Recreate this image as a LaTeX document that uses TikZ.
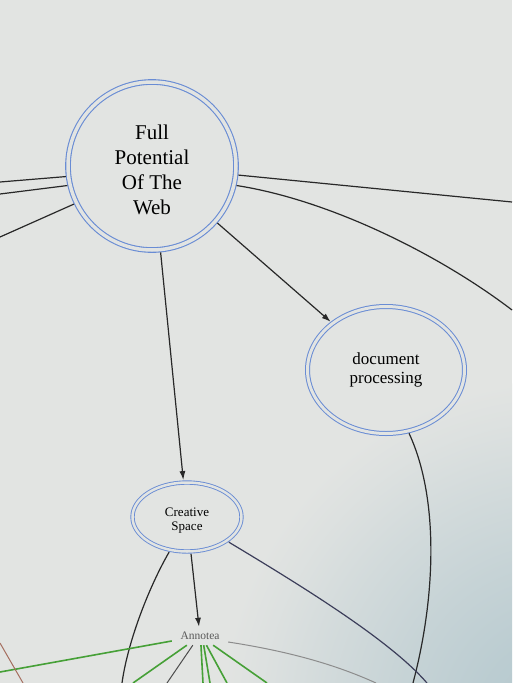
\documentclass[tikz,border=0pt]{standalone}
\usepackage{fontspec}
\setmainfont{Liberation Serif}
\usetikzlibrary{arrows.meta,shapes.geometric}

\definecolor{ringblue}{RGB}{105,140,212}
\definecolor{paper}{RGB}{226,228,226}
\definecolor{papertint}{RGB}{180,200,206}
\definecolor{inkgrey}{RGB}{40,40,40}
\definecolor{slateline}{RGB}{60,62,90}
\definecolor{annogreen}{RGB}{70,160,55}
\definecolor{rustline}{RGB}{165,110,95}

\pgfdeclareradialshading{paperglow}{\pgfpoint{0bp}{0bp}}{%
  color(0bp)=(papertint); color(6bp)=(papertint!85!paper);
  color(12bp)=(papertint!60!paper); color(18bp)=(papertint!32!paper);
  color(22bp)=(papertint!12!paper); color(25bp)=(paper); color(50bp)=(paper)}

\begin{document}
\begin{tikzpicture}
%Web of ideas, top part
	[
	 %Styles
	 x=1pt, y=-1pt,
	 >={Latex[length=9pt,width=6pt]},
	 topic_node/.style={circle, draw=ringblue, double=paper, double distance=3.5pt, line width=1.1pt, outer sep=2.8pt, inner sep=0pt, minimum size=168pt},
	 sub_node/.style={ellipse, draw=ringblue, double=paper, double distance=3pt, line width=1pt, outer sep=2.5pt, inner sep=0pt, align=center},
	 label_inner/.style={align=center, inner sep=0pt},
	 label_simple/.style={rectangle, inner sep=0pt, text=black!65, minimum width=56pt, minimum height=18pt},
	 link_line/.style={draw=inkgrey, line width=1.2pt},
	 anno_line/.style={draw=annogreen, line width=1.6pt}
	]

	%Paper
	\useasboundingbox (0,0) rectangle (512,683);
	\fill[paper] (0,0) rectangle (512,683);
	\begin{scope}
	    \clip (0,0) rectangle (512,683);
	    \shade[shading=paperglow] (560,720) circle (340);
	\end{scope}

	%Node placement
	\node (web) [topic_node, label={[label_inner, yshift=-4pt, font=\fontsize{21}{25}\selectfont]center:Full\\Potential\\Of The\\Web}] at (152,166) {};
	\node (docproc) [sub_node, font=\fontsize{17}{19}\selectfont, minimum width=157pt, minimum height=127pt] at (386,370) {document\\processing};
	\node (creative) [sub_node, line width=0.9pt, double distance=2.5pt, minimum width=109pt, minimum height=69pt, label={[label_inner, yshift=-4pt, font=\fontsize{13}{14}\selectfont]center:Creative\\Space}] at (187,517) {};
	\node (annotea) [label_simple, font=\fontsize{11.5}{12}\selectfont] at (200,636) {Annotea};

	%Loose ends
	\coordinate (left_a) at (0,182);
	\coordinate (left_b) at (0,194);
	\coordinate (left_c) at (0,237);
	\coordinate (right_a) at (512,202);
	\coordinate (right_b) at (512,310);
	\coordinate (proc_end) at (413,683);
	\coordinate (space_end_l) at (122,683);
	\coordinate (space_end_r) at (427,683);
	\coordinate (anno_end_w) at (0,672);
	\coordinate (anno_end_e) at (376,683);
	\coordinate (anno_end_1) at (133,683);
	\coordinate (anno_end_2) at (167,683);
	\coordinate (anno_end_3) at (203,683);
	\coordinate (anno_end_4) at (210,683);
	\coordinate (anno_end_5) at (227,683);
	\coordinate (anno_end_6) at (267,683);
	\coordinate (far_top) at (0,643);
	\coordinate (far_bot) at (23,683);

	%Edges
	\path
	    (web) edge [->, link_line] (docproc)
	    (web) edge [->, link_line] (creative)
	    (creative) edge [->, link_line] (annotea)
	    (web.187) edge [link_line] (left_a)
	    (web.193) edge [link_line] (left_b)
	    (web.206) edge [link_line] (left_c)
	    (web.354) edge [link_line] (right_a);
	\draw[link_line] (web.347) .. controls (330,200) and (440,255) .. (right_b);
	\draw[link_line] (docproc.290) .. controls (440,500) and (435,600) .. (proc_end);
	\draw[link_line] (creative.243) .. controls (150,585) and (128,640) .. (space_end_l);
	\draw[link_line, draw=slateline] (creative.329) .. controls (300,585) and (390,640) .. (space_end_r);

	%Annotea links
	\draw[anno_line] (annotea.190) -- (anno_end_w);
	\draw[link_line, draw=black!45, line width=1pt] (annotea.348) .. controls (280,650) and (330,662) .. (anno_end_e);
	\draw[anno_line] (annotea.215) -- (anno_end_1);
	\draw[link_line, line width=1pt, draw=black!70] (annotea.232) -- (anno_end_2);
	\draw[anno_line] (annotea.276) -- (anno_end_3);
	\draw[anno_line] (annotea.292) -- (anno_end_4);
	\draw[anno_line] (annotea.305) -- (anno_end_5);
	\draw[anno_line] (annotea.325) -- (anno_end_6);
	\draw[draw=rustline, line width=1pt] (far_top) -- (far_bot);
\end{tikzpicture}
\end{document}
